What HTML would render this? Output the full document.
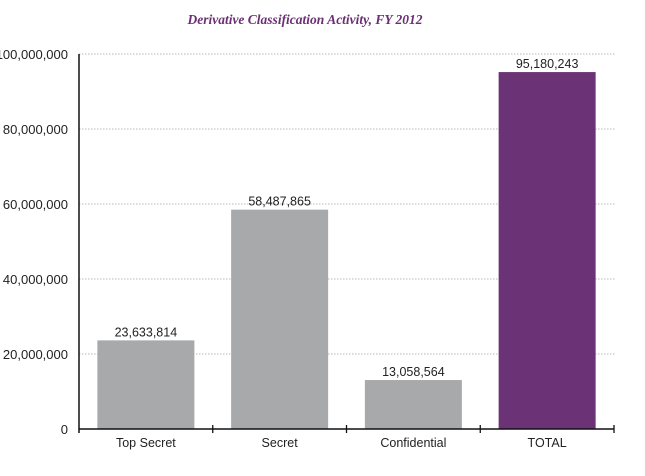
<!DOCTYPE html>
<html><head><meta charset="utf-8"><style>
body{margin:0;background:#fff;width:645px;height:471px;overflow:hidden}
svg text{font-family:"Liberation Sans",sans-serif}
</style></head><body>
<svg id="chart" width="645" height="471">
<text x="305" y="24" text-anchor="middle" fill="#6b2f73" font-style="italic" font-weight="bold" font-size="13.5" style="font-family:'Liberation Serif',serif">Derivative Classification Activity, FY 2012</text>
<g id="grid"></g><g id="bars"></g><g id="axes"></g>
</svg>
<script>
const categories = ["Top Secret","Secret","Confidential","TOTAL"];
const values = [23633814,58487865,13058564,95180243];
const valueLabels = ["23,633,814","58,487,865","13,058,564","95,180,243"];
const yTicks = [0,20000000,40000000,60000000,80000000,100000000];
const yTickLabels = ["0","20,000,000","40,000,000","60,000,000","80,000,000","100,000,000"];
const NS="http://www.w3.org/2000/svg";
const x0=79,x1=614,y0=429,yTop=54,yMax=100000000;
const y=v=>y0-(v/yMax)*(y0-yTop);
const band=(x1-x0)/categories.length;
const xc=i=>x0+band*(i+0.5);
function mk(t,a,p){const e=document.createElementNS(NS,t);for(const k in a)e.setAttribute(k,a[k]);p.appendChild(e);return e;}
const grid=document.getElementById('grid'),bars=document.getElementById('bars'),axes=document.getElementById('axes');
yTicks.forEach((v,i)=>{
  if(v>0){const l=mk('line',{x1:x0,x2:x1+2,y1:y(v),y2:y(v),stroke:'#b8b8b8','stroke-dasharray':'1.5,1.5','stroke-width':1},grid);
  
  }
  const t=mk('text',{x:68,y:y(v)+5,'text-anchor':'end','font-size':13,fill:'#222'},axes);
  t.textContent=yTickLabels[i];
  
  
});
values.forEach((v,i)=>{
  const w=97;
  const r=mk('rect',{x:xc(i)-w/2,y:y(v),width:w,height:y0-y(v),fill:i===3?'#6b3275':'#a7a9ab'},bars);
  
  
  const t=mk('text',{x:xc(i),y:y(v)-4,'text-anchor':'middle','font-size':12.5,fill:'#222'},bars);
  t.textContent=valueLabels[i];
  
  
  const c=mk('text',{x:xc(i),y:447,'text-anchor':'middle','font-size':12.5,fill:'#222'},axes);
  c.textContent=categories[i];
  
  
});
const ya=mk('line',{x1:x0,x2:x0,y1:yTop,y2:y0+4,stroke:'#111','stroke-width':1.5},axes);


const xa=mk('line',{x1:x0,x2:x1,y1:y0,y2:y0,stroke:'#111','stroke-width':1.5},axes);


for(let i=1;i<=categories.length;i++){
  const tk=mk('line',{x1:x0+band*i,x2:x0+band*i,y1:y0-4,y2:y0+4,stroke:'#111','stroke-width':1.3},axes);
  
  
}
</script>
</body></html>
